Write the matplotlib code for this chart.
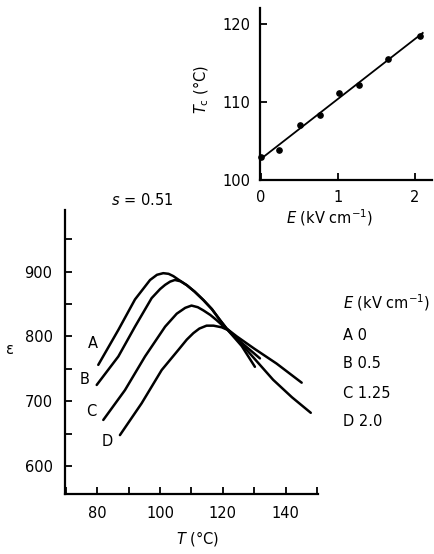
import numpy as np
import matplotlib
matplotlib.use("Agg")
import matplotlib.pyplot as plt
from matplotlib.ticker import MultipleLocator

# permittivity vs temperature for four bias fields
T_A = [80.3, 86.7, 92, 96.8, 99, 101, 102.7, 104.2, 106, 108.5, 111, 113.8, 116.5, 119.1, 121.2, 124.4, 127.6, 136, 142, 148]
eps_A = [756, 810, 857, 887, 895, 897.5, 896.5, 893, 887, 879, 869, 856, 842, 825, 812, 797, 779, 733, 706, 682]

T_B = [79.8, 86.7, 92, 97.3, 100, 101.6, 103.2, 104.7, 106.5, 108.5, 111, 113.8, 116.5, 119.1, 121.2, 124.4, 130, 137.1, 145.1]
eps_B = [725, 769, 815, 859, 873, 879.5, 884.5, 887, 885, 879, 869, 856, 842, 825, 812, 800, 781, 758, 728.5]

T_C = [81.9, 88.8, 95.2, 101.6, 105.3, 108, 110, 112, 113.8, 116, 118, 119.6, 121.5, 126, 131.8]
eps_C = [671, 717, 769, 815, 835, 844, 847.5, 845, 840, 833, 825, 818, 810, 790, 766]

T_D = [87.2, 94.1, 100.5, 105.8, 108.5, 110.6, 112.5, 114.8, 117, 119.6, 121.5, 126, 130.2]
eps_D = [647.6, 696.6, 748, 779, 795, 805, 812, 816.5, 816.5, 814, 810, 785, 753]

curve_names = ["A", "B", "C", "D"]
fields = ["0", "0.5", "1.25", "2.0"]

# transition temperature vs field (inset)
E_field = [0.0, 0.24, 0.51, 0.77, 1.02, 1.28, 1.65, 2.06]
T_c = [103.0, 103.9, 107.0, 108.3, 111.1, 112.2, 115.5, 118.5]

W, H = 435, 554
fig = plt.figure(figsize=(W / 100, H / 100), dpi=100)
plt.rcParams["font.family"] = "DejaVu Sans"
fs = 10.5


def fx(px):
    return px / W


def fy(py):
    return 1 - py / H


# main panel
ax = fig.add_axes([fx(65), fy(494), fx(318) - fx(65), fy(210) - fy(494)])
for T, e in [(T_A, eps_A), (T_B, eps_B), (T_C, eps_C), (T_D, eps_D)]:
    ax.plot(T, e, color="black", lw=1.8, solid_capstyle="round", solid_joinstyle="round")
ax.set_xlim(69.7, 150.3)
ax.set_ylim(556.7, 995)
ax.xaxis.set_major_locator(MultipleLocator(20))
ax.xaxis.set_minor_locator(MultipleLocator(10))
ax.yaxis.set_major_locator(MultipleLocator(100))
ax.yaxis.set_minor_locator(MultipleLocator(50))
ax.tick_params(which="both", direction="in", length=5, width=1.3, labelsize=fs, pad=9)
ax.spines[["top", "right"]].set_visible(False)
for s in ["left", "bottom"]:
    ax.spines[s].set_linewidth(1.6)

# curve letters
for name, (px, py) in zip(curve_names, [(93, 343), (85, 380), (91, 412), (107, 442)]):
    fig.text(fx(px), fy(py), name, fontsize=fs, ha="center", va="center")

fig.text(fx(10), fy(349), "ε", fontsize=fs, ha="center", va="center")
fig.text(fx(198), fy(538), r"$T$ (°C)", fontsize=fs, ha="center", va="center")
fig.text(fx(142), fy(200), r"$s$ = 0.51", fontsize=fs, ha="center", va="center")

# field key
fig.text(fx(343), fy(303), r"$E$ (kV cm$^{-1}$)", fontsize=fs, ha="left", va="center")
for i, (name, val) in enumerate(zip(curve_names, fields)):
    fig.text(fx(343), fy(335 + 29 * i), f"{name} {val}", fontsize=fs, ha="left", va="center")

# inset panel
ax2 = fig.add_axes([fx(260), fy(180), fx(432) - fx(260), fy(8) - fy(180)])
slope, icpt = np.polyfit(E_field, T_c, 1)
E_line = np.array([0.0, 2.1])
ax2.plot(E_line, icpt + slope * E_line, color="black", lw=1.3)
ax2.plot(E_field, T_c, "o", color="black", ms=3.8, clip_on=False)
ax2.set_xlim(-0.01, 2.22)
ax2.set_ylim(100, 122.05)
ax2.xaxis.set_major_locator(MultipleLocator(1))
ax2.yaxis.set_major_locator(MultipleLocator(10))
ax2.tick_params(which="both", direction="in", length=5, width=1.3, labelsize=fs, pad=7)
ax2.spines[["top", "right"]].set_visible(False)
for s in ["left", "bottom"]:
    ax2.spines[s].set_linewidth(1.6)

fig.text(fx(201), fy(89), r"$T_{\rm c}$ (°C)", fontsize=fs, ha="center", va="center", rotation=90)
fig.text(fx(330), fy(218), r"$E$ (kV cm$^{-1}$)", fontsize=fs, ha="center", va="center")

fig.savefig("out.png", dpi=100)
